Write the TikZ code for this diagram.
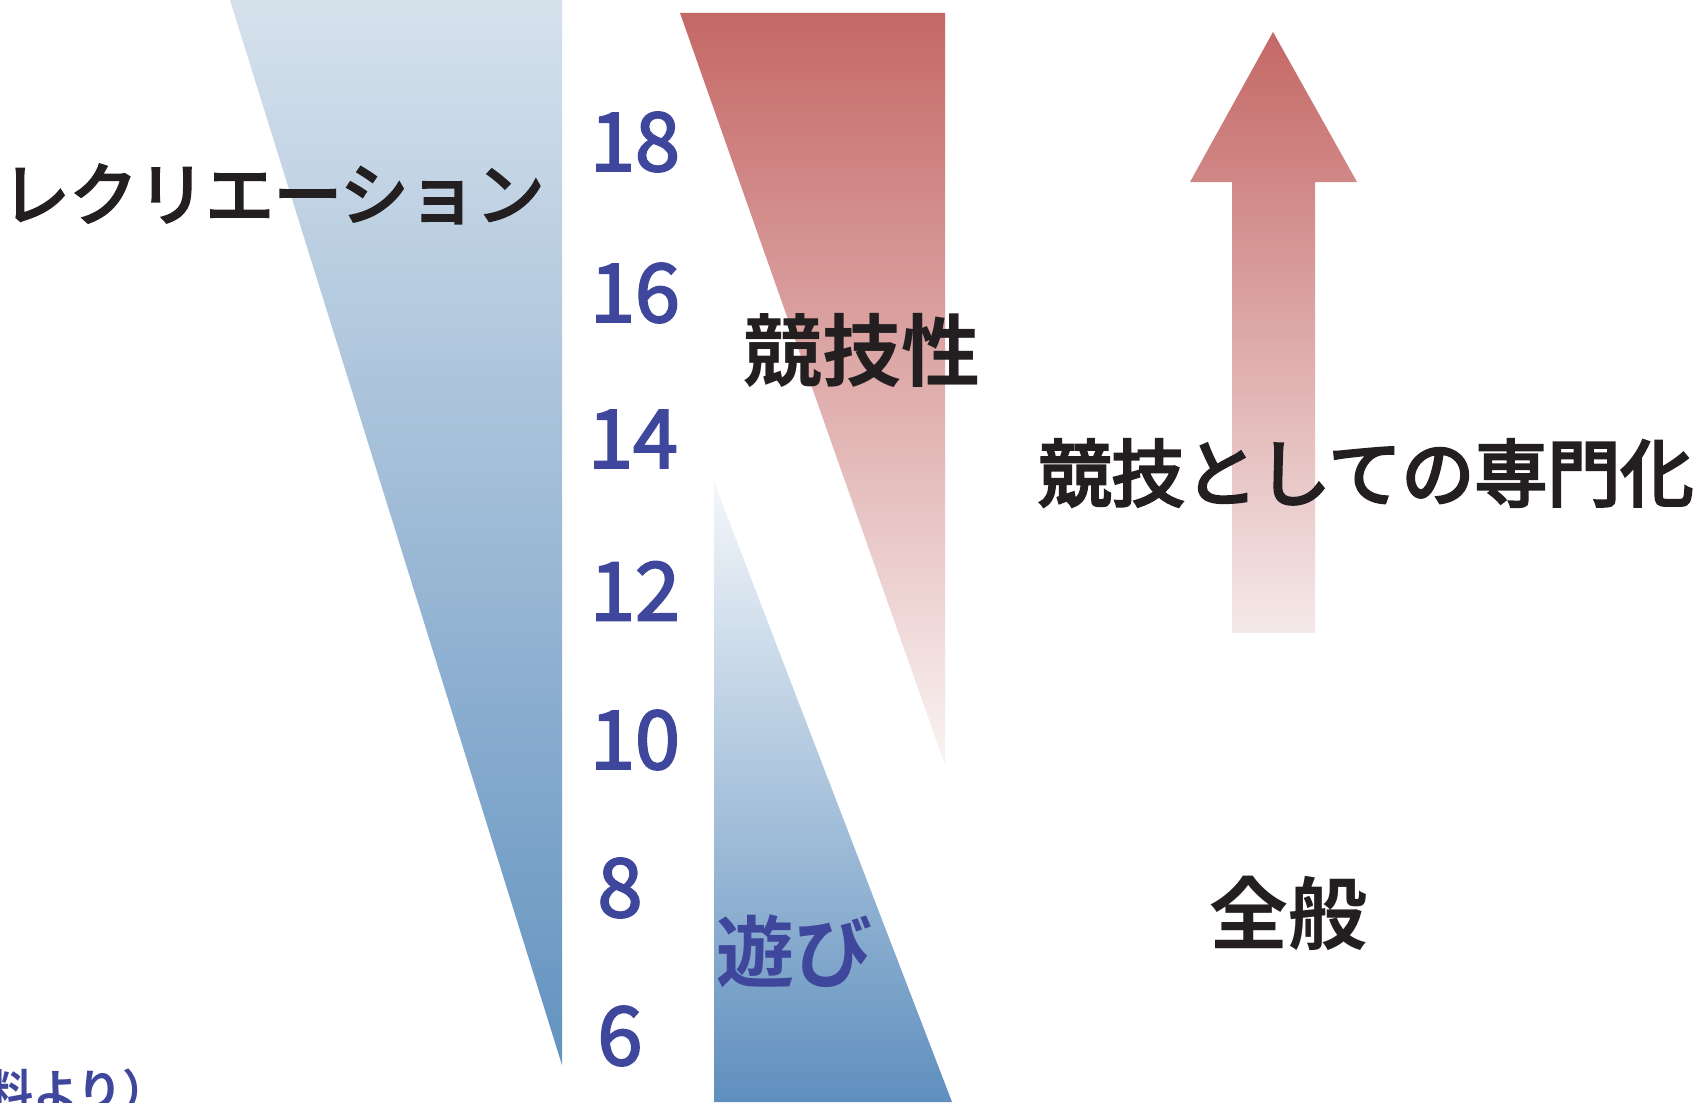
\documentclass[tikz,border=0pt]{standalone}
\usepackage{fontspec}
\newfontfamily\jpfont{Noto Sans CJK JP}[BoldFont=Noto Sans CJK JP Bold]
\newfontfamily\jpmed{Noto Sans CJK JP}[FakeBold=4]
\newfontfamily\numfont{Noto Sans CJK JP}[FakeBold=2.5]
\definecolor{txtblue}{HTML}{3E479C}
\definecolor{txtblack}{HTML}{231F20}
\definecolor{bluetop}{HTML}{D6E1EC}
\definecolor{bluebot}{HTML}{6393C0}
\definecolor{blue2top}{HTML}{F4F7FA}
\definecolor{blue2bot}{HTML}{5F8FBE}
\definecolor{redtop}{HTML}{C46866}
\definecolor{redbot}{HTML}{FAF3F3}
\definecolor{arrbot}{HTML}{F5E9E9}
\tikzset{
  num/.style={text=txtblue, inner sep=0pt, font=\numfont\fontsize{40.5pt}{48pt}\selectfont},
  jpmid/.style={text=txtblack, inner sep=0pt, font=\jpmed\fontsize{#1}{1.2\dimexpr#1\relax}\selectfont},
  jpbold/.style={text=txtblack, inner sep=0pt, font=\jpfont\bfseries\fontsize{#1}{1.2\dimexpr#1\relax}\selectfont},
}
\begin{document}
\begin{tikzpicture}[x=0.5pt,y=-0.5pt]
\useasboundingbox (0,0) rectangle (1701,1102);
\clip (0,0) rectangle (1701,1102);
\fill[white] (0,0) rectangle (1701,1102);
% left blue trapezoid
\shade[top color=bluetop, bottom color=bluebot] (230,0) -- (562,0) -- (562,1065) -- cycle;
% lower blue triangle
\shade[top color=blue2top, bottom color=blue2bot] (714,482) -- (952,1102) -- (714,1102) -- cycle;
% red trapezoid
\shade[top color=redtop, bottom color=redbot] (680,13) -- (945,13) -- (945,765) -- cycle;
% arrow
\shade[top color=redtop, bottom color=arrbot] (1273,32) -- (1357,182) -- (1315,182) -- (1315,633) -- (1232,633) -- (1232,182) -- (1190,182) -- cycle;
% numbers
\node[num] (n18) at (635,142) {18};
\node[num] (n16) at (635,293) {16};
\node[num] (n14) at (633,439) {14};
\node[num] (n12) at (635,591) {12};
\node[num] (n10) at (635,740) {10};
\node[num] (n8) at (620,888) {8};
\node[num] (n6) at (620,1036) {6};
% texts
\node[jpmid=34pt] (rec) at (273,194) {レクリエーション};
\node[jpbold=39.5pt] (kyo) at (862,350) {競技性};
\node[jpmid=36.5pt] (sen) at (1366,473) {競技としての専門化};
\node[jpbold=39.5pt] (zen) at (1288,913) {全般};
\node[jpbold=39pt, text=txtblue] (aso) at (794,951) {遊び};
\node[jpbold=22.5pt, text=txtblue, anchor=east] (src) at (168,1090) {資料より）};
\end{tikzpicture}
\end{document}
